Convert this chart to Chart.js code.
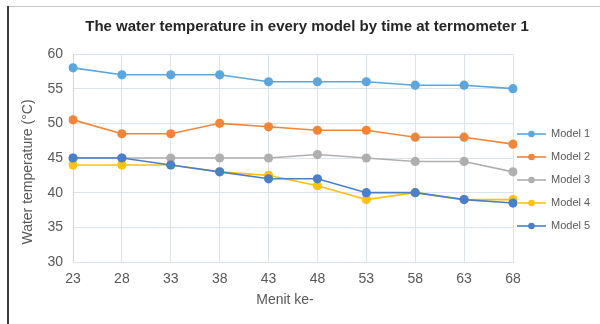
<!DOCTYPE html>
<html>
<head>
<meta charset="utf-8">
<style>
  html, body { margin: 0; padding: 0; background: #ffffff; }
  #wrap { position: relative; width: 600px; height: 324px; }
</style>
<script src="https://cdn.jsdelivr.net/npm/chart.js@4/dist/chart.umd.min.js"></script>
</head>
<body>
<div id="wrap"><canvas id="chart" width="600" height="324"></canvas></div>
<script>
// Minutes at which the thermometer was read
const categories = ['23', '28', '33', '38', '43', '48', '53', '58', '63', '68'];

// Water temperature (°C) for each model
const model1 = [58, 57, 57, 57, 56, 56, 56, 55.5, 55.5, 55];
const model2 = [50.5, 48.5, 48.5, 50, 49.5, 49, 49, 48, 48, 47];
const model3 = [45, 45, 45, 45, 45, 45.5, 45, 44.5, 44.5, 43];
const model4 = [44, 44, 44, 43, 42.5, 41, 39, 40, 39, 39];
const model5 = [45, 45, 44, 43, 42, 42, 40, 40, 39, 38.5];

const seriesNames = ['Model 1', 'Model 2', 'Model 3', 'Model 4', 'Model 5'];
const seriesValues = [model1, model2, model3, model4, model5];
const seriesColors = ['#5ba6dc', '#f1853a', '#afafaf', '#ffc212', '#4a80c7'];

// Value axis range
const yMin = 30;
const yMax = 60;
const yStep = 5;

const titleText = 'The water temperature in every model by time at termometer 1';
const yTitleText = 'Water temperature (°C)';
const xTitleText = 'Menit ke-';

const FONT = '"Liberation Sans", Arial, sans-serif';
const GRID = '#dde4e9';
const TEXT = '#595959';

// Frame, headings and series key drawn around the plot
const decorations = {
  id: 'decorations',
  beforeDraw(chart) {
    const ctx = chart.ctx;
    ctx.save();
    ctx.fillStyle = '#ffffff';
    ctx.fillRect(0, 0, chart.width, chart.height);
    // top rule
    ctx.fillStyle = '#c9c9c9';
    ctx.fillRect(7, 6, chart.width - 7, 1);
    // left rule
    ctx.fillStyle = '#3c3c3c';
    ctx.fillRect(7, 6, 2, chart.height - 6);
    ctx.restore();
  },
  afterDraw(chart) {
    const ctx = chart.ctx;
    const area = chart.chartArea;
    ctx.save();
    ctx.textBaseline = 'middle';

    // chart title
    ctx.fillStyle = '#262626';
    ctx.font = 'bold 15px ' + FONT;
    ctx.textAlign = 'center';
    ctx.fillText(titleText, 307, 27);

    // x axis title
    ctx.fillStyle = TEXT;
    ctx.font = '14px ' + FONT;
    ctx.fillText(xTitleText, 285, 300);

    // y axis title
    ctx.save();
    ctx.translate(28, 172);
    ctx.rotate(-Math.PI / 2);
    ctx.fillText(yTitleText, 0, 0);
    ctx.restore();

    // series key
    const ds = chart.data.datasets;
    const rowGap = 23;
    const firstRow = 134;
    const lineX0 = area.right + 4;
    const lineX1 = lineX0 + 29;
    ds.forEach((d, i) => {
      const y = firstRow + i * rowGap;
      ctx.strokeStyle = d.borderColor;
      ctx.lineWidth = 1.6;
      ctx.beginPath();
      ctx.moveTo(lineX0, y);
      ctx.lineTo(lineX1, y);
      ctx.stroke();
      ctx.fillStyle = d.borderColor;
      ctx.beginPath();
      ctx.arc((lineX0 + lineX1) / 2, y, 3.3, 0, Math.PI * 2);
      ctx.fill();
      ctx.fillStyle = TEXT;
      ctx.font = '11px ' + FONT;
      ctx.textAlign = 'left';
      ctx.fillText(d.label, lineX1 + 5, y);
    });
    ctx.restore();
  }
};

const datasets = seriesNames.map((name, i) => ({
  label: name,
  data: seriesValues[i],
  borderColor: seriesColors[i],
  backgroundColor: seriesColors[i],
  pointBackgroundColor: seriesColors[i],
  pointBorderColor: seriesColors[i],
  pointBorderWidth: 0,
  pointRadius: 4.6,
  borderWidth: 1.6,
  tension: 0,
  fill: false,
  // later models are painted over earlier ones
  order: seriesNames.length - i
}));

new Chart(document.getElementById('chart'), {
  type: 'line',
  data: { labels: categories, datasets },
  options: {
    responsive: false,
    devicePixelRatio: 1,
    animation: false,
    layout: { padding: { left: 0, right: 87, top: 54, bottom: 0 } },
    plugins: {
      legend: { display: false },
      title: { display: false },
      tooltip: { enabled: false }
    },
    scales: {
      x: {
        offset: false,
        grid: { color: GRID, drawTicks: false, lineWidth: 1 },
        border: { color: GRID, width: 1 },
        ticks: {
          color: TEXT,
          font: { family: FONT, size: 14 },
          padding: 9,
          maxRotation: 0,
          autoSkip: false
        },
        afterFit(scale) { scale.height = 62; }
      },
      y: {
        min: yMin,
        max: yMax,
        grid: { color: GRID, drawTicks: false, lineWidth: 1 },
        border: { color: '#cfd8de', width: 1 },
        ticks: {
          stepSize: yStep,
          color: TEXT,
          font: { family: FONT, size: 14 },
          padding: 10
        },
        afterFit(scale) { scale.width = 73; }
      }
    }
  },
  plugins: [decorations]
});
</script>
</body>
</html>
